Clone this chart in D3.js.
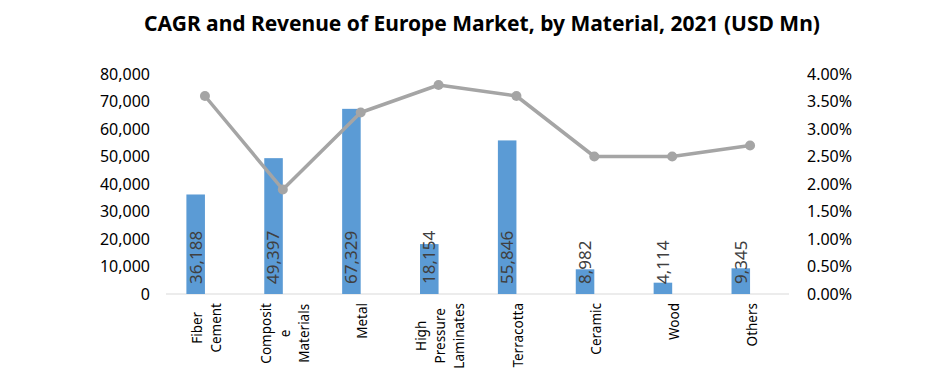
<!DOCTYPE html>
<html>
<head>
<meta charset="utf-8">
<script src="https://cdn.jsdelivr.net/npm/d3@7"></script>
<style>
  body { margin: 0; background: #fff; }
  text { font-family: "Noto Sans", sans-serif; }
</style>
</head>
<body>
<svg width="941" height="370"></svg>
<script>
var categories = ['Fiber Cement', 'Composite Materials', 'Metal', 'High Pressure Laminates',
                  'Terracotta', 'Ceramic', 'Wood', 'Others'];
// wrapped as in the original axis
var categoryLines = [['Fiber', 'Cement'], ['Composit', 'e', 'Materials'], ['Metal'],
                     ['High', 'Pressure', 'Laminates'], ['Terracotta'], ['Ceramic'], ['Wood'], ['Others']];
var revenue = [36188, 49397, 67329, 18154, 55846, 8982, 4114, 9345];
var cagr = [0.036, 0.019, 0.033, 0.038, 0.036, 0.025, 0.025, 0.027];
var revenueTicks = [0, 10000, 20000, 30000, 40000, 50000, 60000, 70000, 80000];
var cagrTicks = [0, 0.005, 0.01, 0.015, 0.02, 0.025, 0.03, 0.035, 0.04];

var svg = d3.select('svg');
var plotLeft = 166, plotRight = 789, plotTop = 74, plotBottom = 294;

var x = d3.scaleBand().domain(categories).range([plotLeft, plotRight]);
// two slots per category, revenue on the left, the CAGR slot stays empty
var x1 = d3.scaleBand().domain(['rev', 'cagr']).range([0, x.bandwidth()]).paddingOuter(1.1);
var yL = d3.scaleLinear().domain([0, 80000]).range([plotBottom, plotTop]);
var yR = d3.scaleLinear().domain([0, 0.04]).range([plotBottom, plotTop]);

svg.append('text')
  .attr('x', 482).attr('y', 31)
  .attr('text-anchor', 'middle')
  .style('font-weight', 'bold').style('font-size', '21px').style('fill', '#000')
  .text('CAGR and Revenue of Europe Market, by Material, 2021 (USD Mn)');

var axisL = svg.append('g')
  .attr('transform', 'translate(' + (plotLeft - 4) + ',0)')
  .call(d3.axisLeft(yL).tickValues(revenueTicks).tickSize(0).tickPadding(12).tickFormat(d3.format(',')));
var axisR = svg.append('g')
  .attr('transform', 'translate(' + (plotRight + 6) + ',0)')
  .call(d3.axisRight(yR).tickValues(cagrTicks).tickSize(0).tickPadding(12).tickFormat(d3.format('.2%')));
[axisL, axisR].forEach(function(a){
  a.select('.domain').remove();
  a.selectAll('text').style('font-size', '16px').style('fill', '#000').style('font-family', '"Noto Sans", sans-serif');
});

// baseline
svg.append('line')
  .attr('x1', plotLeft).attr('x2', plotRight).attr('y1', plotBottom).attr('y2', plotBottom)
  .style('stroke', '#d9d9d9').style('stroke-width', 1);

svg.selectAll('rect.bar')
  .data(revenue)
  .enter().append('rect')
  .attr('class', 'bar')
  .attr('x', function(d, i){ return x(categories[i]) + x1('rev'); })
  .attr('width', x1.bandwidth())
  .attr('y', function(d){ return yL(d); })
  .attr('height', function(d){ return plotBottom - yL(d); })
  .style('fill', '#5b9bd5');

svg.selectAll('text.val')
  .data(revenue)
  .enter().append('text')
  .attr('class', 'val')
  .attr('transform', function(d, i){
    var cx = x(categories[i]) + x1('rev') + x1.bandwidth()/2;
    return 'translate(' + cx + ',' + (plotBottom - 10) + ') rotate(-90)';
  })
  .attr('dy', '0.35em')
  .style('font-size', '17px').style('fill', '#404040')
  .text(function(d){ return d3.format(',')(d); });

var line = d3.line()
  .x(function(d, i){ return x(categories[i]) + x.bandwidth()/2; })
  .y(function(d){ return yR(d); });

svg.append('path')
  .datum(cagr)
  .attr('d', line)
  .style('fill', 'none').style('stroke', '#a5a5a5').style('stroke-width', 3.5)
  .style('stroke-linejoin', 'round');

svg.selectAll('circle.pt')
  .data(cagr)
  .enter().append('circle')
  .attr('class', 'pt')
  .attr('cx', function(d, i){ return x(categories[i]) + x.bandwidth()/2; })
  .attr('cy', function(d){ return yR(d); })
  .attr('r', 5)
  .style('fill', '#a5a5a5');

// category labels, rotated, lines centred inside a block hanging from the axis
var lineH = 19;
categoryLines.forEach(function(lines, i){
  var g = svg.append('g');
  var texts = lines.map(function(t){
    return g.append('text')
      .attr('text-anchor', 'middle')
      .attr('dy', '0.35em')
      .style('font-size', '13.5px').style('fill', '#000')
      .text(t);
  });
  var maxLen = d3.max(texts, function(t){ return t.node().getComputedTextLength(); });
  var cx = x(categories[i]) + x.bandwidth()/2 + 2;
  g.attr('transform', 'translate(' + cx + ',' + (303 + maxLen/2) + ') rotate(-90)');
  texts.forEach(function(t, j){
    t.attr('y', (j - (lines.length - 1)/2) * lineH);
  });
});
</script>
</body>
</html>
